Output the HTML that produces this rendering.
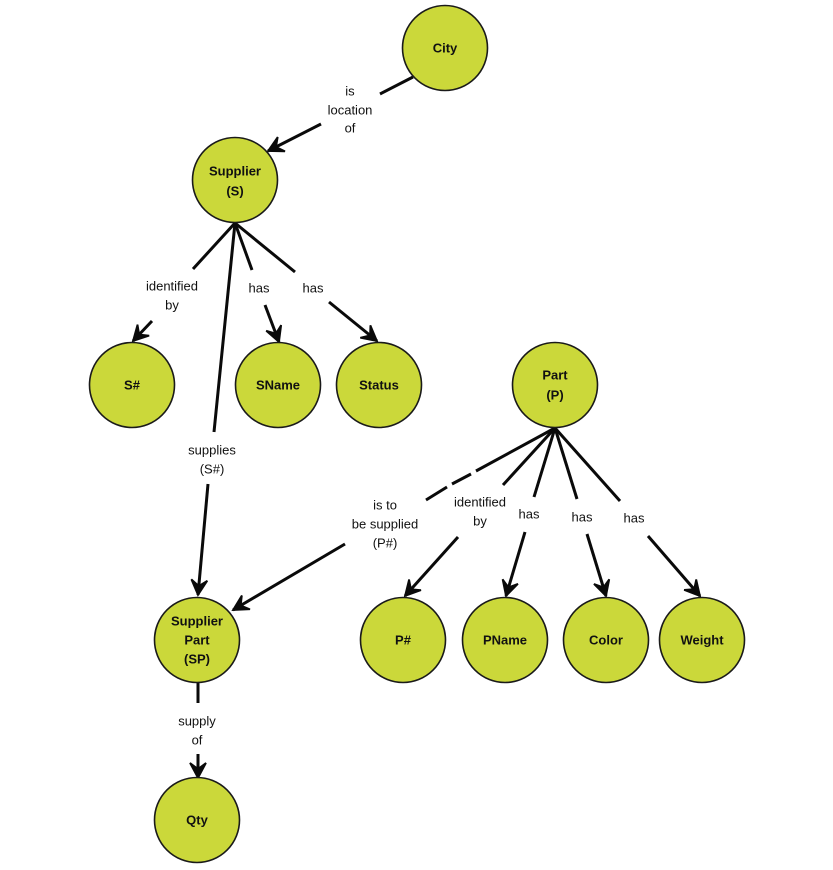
<!DOCTYPE html>
<html>
<head>
<meta charset="utf-8">
<style>
  html,body{margin:0;padding:0;background:#fff;}
  svg{display:block;}
  .n{fill:#cbd83a;stroke:#1a1a1a;stroke-width:1.6;}
  .e{stroke:#0a0a0a;stroke-width:3;fill:none;stroke-linecap:butt;}
  .l{font-family:"Liberation Sans",Arial,sans-serif;font-size:13px;fill:#111;text-anchor:middle;dominant-baseline:central;}
  .t{font-family:"Liberation Sans",Arial,sans-serif;font-size:13px;font-weight:bold;fill:#111;text-anchor:middle;dominant-baseline:central;}
</style>
</head>
<body>
<svg width="833" height="870" viewBox="0 0 833 870" xmlns="http://www.w3.org/2000/svg">
  <defs>
    <marker id="a" markerUnits="userSpaceOnUse" markerWidth="24" markerHeight="24" viewBox="-20 -12 24 24" refX="0" refY="0" orient="auto">
      <path d="M-15,-8 L0,0 L-15,8 L-9,0 Z" fill="#0a0a0a" stroke="#0a0a0a" stroke-width="1.8" stroke-linejoin="miter"/>
    </marker>
  </defs>

  <!-- edges -->
  <!-- City -> Supplier -->
  <line class="e" x1="413" y1="77" x2="380" y2="94"/>
  <line class="e" x1="321" y1="124" x2="268" y2="151" marker-end="url(#a)"/>

  <!-- Supplier -> S# -->
  <line class="e" x1="235" y1="223" x2="193" y2="269"/>
  <line class="e" x1="152" y1="321" x2="133" y2="341" marker-end="url(#a)"/>
  <!-- Supplier -> SName -->
  <line class="e" x1="235" y1="223" x2="252" y2="270"/>
  <line class="e" x1="265" y1="305" x2="279" y2="342" marker-end="url(#a)"/>
  <!-- Supplier -> Status -->
  <line class="e" x1="235" y1="223" x2="295" y2="272"/>
  <line class="e" x1="329" y1="302" x2="377" y2="341" marker-end="url(#a)"/>
  <!-- Supplier -> SP -->
  <line class="e" x1="235" y1="223" x2="214" y2="432"/>
  <line class="e" x1="208" y1="484" x2="198" y2="595" marker-end="url(#a)"/>

  <!-- Part -> SP -->
  <line class="e" x1="555" y1="428" x2="476" y2="471"/>
  <line class="e" x1="471" y1="474" x2="452" y2="484"/>
  <line class="e" x1="447" y1="487" x2="426" y2="500"/>
  <line class="e" x1="345" y1="544" x2="233" y2="610" marker-end="url(#a)"/>
  <!-- Part -> P# -->
  <line class="e" x1="555" y1="428" x2="503" y2="485"/>
  <line class="e" x1="458" y1="537" x2="405" y2="596" marker-end="url(#a)"/>
  <!-- Part -> PName -->
  <line class="e" x1="555" y1="428" x2="534" y2="497"/>
  <line class="e" x1="525" y1="532" x2="506" y2="596" marker-end="url(#a)"/>
  <!-- Part -> Color -->
  <line class="e" x1="555" y1="428" x2="577" y2="499"/>
  <line class="e" x1="587" y1="534" x2="606" y2="596" marker-end="url(#a)"/>
  <!-- Part -> Weight -->
  <line class="e" x1="555" y1="428" x2="620" y2="501"/>
  <line class="e" x1="648" y1="536" x2="700" y2="596" marker-end="url(#a)"/>

  <!-- SP -> Qty -->
  <line class="e" x1="198" y1="682" x2="198" y2="703"/>
  <line class="e" x1="198" y1="754" x2="198" y2="778" marker-end="url(#a)"/>

  <!-- nodes -->
  <circle class="n" cx="445" cy="48" r="42.5"/>
  <circle class="n" cx="235" cy="180" r="42.5"/>
  <circle class="n" cx="132" cy="385" r="42.5"/>
  <circle class="n" cx="278" cy="385" r="42.5"/>
  <circle class="n" cx="379" cy="385" r="42.5"/>
  <circle class="n" cx="555" cy="385" r="42.5"/>
  <circle class="n" cx="197" cy="640" r="42.5"/>
  <circle class="n" cx="403" cy="640" r="42.5"/>
  <circle class="n" cx="505" cy="640" r="42.5"/>
  <circle class="n" cx="606" cy="640" r="42.5"/>
  <circle class="n" cx="702" cy="640" r="42.5"/>
  <circle class="n" cx="197" cy="820" r="42.5"/>

  <!-- node labels -->
  <text class="t" x="445" y="48">City</text>
  <text class="t" x="235" y="171">Supplier</text>
  <text class="t" x="235" y="191">(S)</text>
  <text class="t" x="132" y="385">S#</text>
  <text class="t" x="278" y="385">SName</text>
  <text class="t" x="379" y="385">Status</text>
  <text class="t" x="555" y="375">Part</text>
  <text class="t" x="555" y="395">(P)</text>
  <text class="t" x="197" y="621">Supplier</text>
  <text class="t" x="197" y="640">Part</text>
  <text class="t" x="197" y="659">(SP)</text>
  <text class="t" x="403" y="640">P#</text>
  <text class="t" x="505" y="640">PName</text>
  <text class="t" x="606" y="640">Color</text>
  <text class="t" x="702" y="640">Weight</text>
  <text class="t" x="197" y="820">Qty</text>

  <!-- edge labels -->
  <text class="l" x="350" y="91">is</text>
  <text class="l" x="350" y="110">location</text>
  <text class="l" x="350" y="128">of</text>

  <text class="l" x="172" y="286">identified</text>
  <text class="l" x="172" y="305">by</text>
  <text class="l" x="259" y="288">has</text>
  <text class="l" x="313" y="288">has</text>

  <text class="l" x="212" y="450">supplies</text>
  <text class="l" x="212" y="469">(S#)</text>

  <text class="l" x="385" y="505">is to</text>
  <text class="l" x="385" y="524">be supplied</text>
  <text class="l" x="385" y="543">(P#)</text>

  <text class="l" x="480" y="502">identified</text>
  <text class="l" x="480" y="521">by</text>
  <text class="l" x="529" y="514">has</text>
  <text class="l" x="582" y="517">has</text>
  <text class="l" x="634" y="518">has</text>

  <text class="l" x="197" y="721">supply</text>
  <text class="l" x="197" y="740">of</text>
</svg>
</body>
</html>
